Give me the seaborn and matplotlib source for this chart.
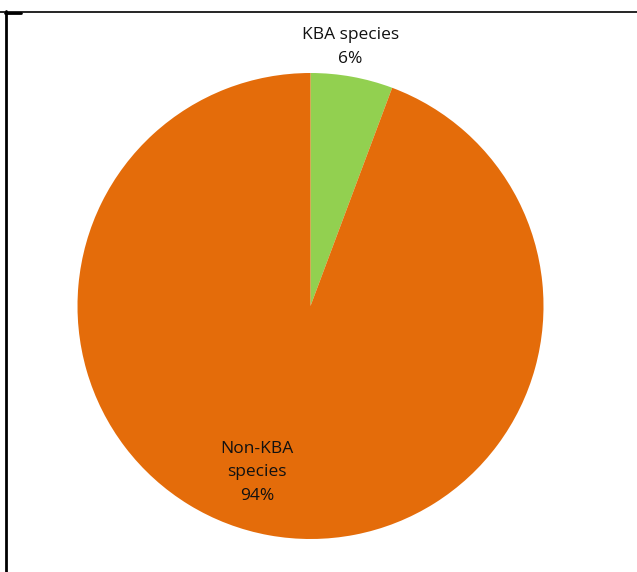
import matplotlib
matplotlib.use("Agg")
import matplotlib.pyplot as plt
import seaborn as sns
from matplotlib.lines import Line2D
import numpy as np

categories = ["KBA species", "Non-KBA species"]
label_text = ["KBA species", "Non-KBA\nspecies"]
values = [5.7, 94.3]
colors = ["#92D050", "#E46C0A"]

sns.set_theme(style="white")
plt.rcParams['font.family'] = ['Open Sans', 'DejaVu Sans']

W, H = 637, 572
fig = plt.figure(figsize=(W / 100, H / 100), dpi=100)
ax = fig.add_axes([0, 0, 1, 1])

cx, cy, r = 310.5, H - 306, 233
wedges, _ = ax.pie(values, colors=colors, startangle=90, counterclock=False,
                   center=(cx, cy), radius=r, frame=True,
                   wedgeprops=dict(linewidth=0))
ax.set_xlim(0, W)
ax.set_ylim(0, H)
ax.set_aspect('equal')
ax.axis('off')

dists = [1.125, 0.75]
angle_adj = [1.5, -7.5]
for w, lab, v, d, adj in zip(wedges, label_text, values, dists, angle_adj):
    ang = np.deg2rad((w.theta1 + w.theta2) / 2 + adj)
    x = cx + d * r * np.cos(ang)
    y = cy + d * r * np.sin(ang)
    ax.text(x, y, f"{lab}\n{v:.0f}%", ha='center', va='center',
            fontsize=12.5, color='#111111', linespacing=1.6)

# border lines (figure pixel coords)
def px(x, y):
    return x / W, 1 - y / H
fig.add_artist(Line2D([0, 1], [px(0, 11.5)[1]] * 2, color='black', lw=1.2))
fig.add_artist(Line2D([px(6.5, 0)[0]] * 2, [px(0, 11)[1], 0], color='black', lw=2.0))
fig.add_artist(Line2D([px(5, 0)[0], px(21, 0)[0]], [px(0, 12.5)[1]] * 2, color='black', lw=2.0))

fig.savefig("out.png", dpi=100)
